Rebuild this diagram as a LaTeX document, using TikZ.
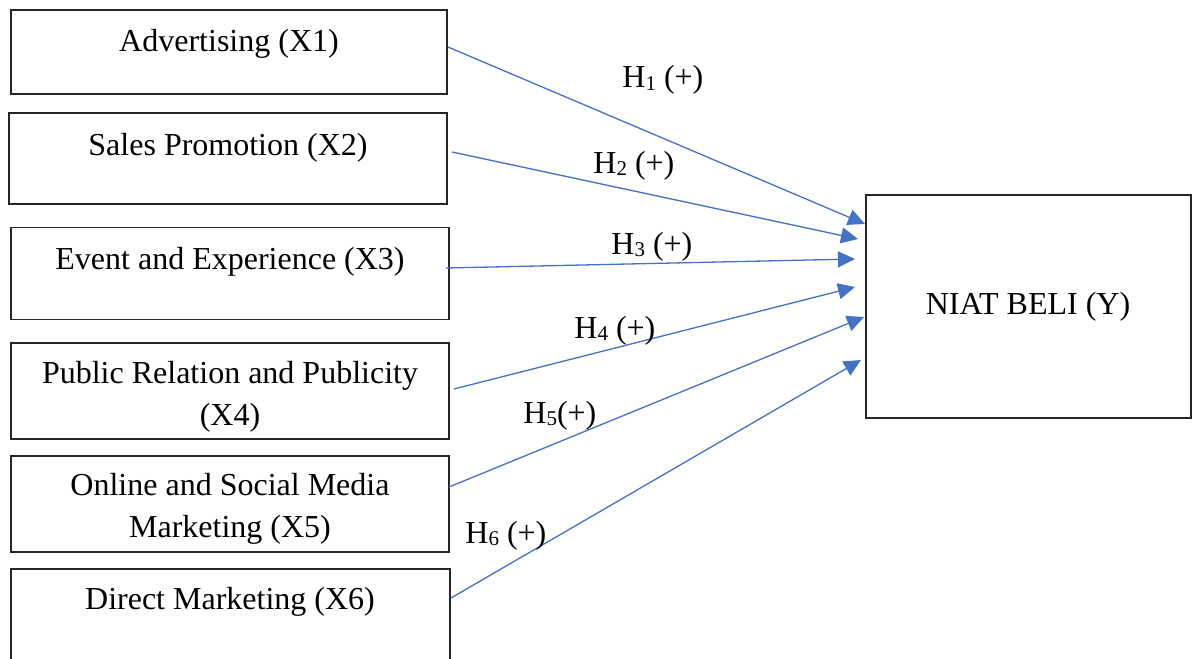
\documentclass[tikz,border=0pt]{standalone}
\usepackage{fontspec}
\setmainfont{Liberation Serif}
\usetikzlibrary{arrows.meta}
\definecolor{arrowblue}{HTML}{4472C4}
\newcommand{\hsub}[1]{\raisebox{-1.2pt}{\fontsize{10.5}{12}\selectfont #1}}
\begin{document}
\begin{tikzpicture}[x=0.5pt,y=-0.5pt,
  box/.style={draw=black!85, line width=0.65pt, inner sep=0pt},
  lbl/.style={anchor=base, inner sep=0pt, font=\fontsize{16}{21}\selectfont, align=center},
  hyp/.style={anchor=base west, inner sep=0pt, font=\fontsize{16}{21}\selectfont},
  link/.style={draw=arrowblue, line width=0.65pt, -{Triangle[length=8.5pt,width=8pt]}}]
\useasboundingbox (0,0) rectangle (1197,658);
\clip (0,0) rectangle (1197,658);
% boxes
\node[box, minimum width=218pt, minimum height=42pt] (b1) at (229,52) {};
\node[box, minimum width=219pt, minimum height=45.5pt] (b2) at (228,158.5) {};
\node[box, minimum width=219pt, minimum height=46pt] (b3) at (230,273.5) {};
\node[box, minimum width=219pt, minimum height=48pt] (b4) at (230,391) {};
\node[box, minimum width=219pt, minimum height=48pt] (b5) at (230,504) {};
\node[box, minimum width=219.5pt, minimum height=65pt] (b6) at (230.5,634) {};
\node[box, minimum width=162.5pt, minimum height=111.5pt] (y) at (1028.5,306.5) {};
% box texts
\node[lbl] (t1) at (229,52) {Advertising (X1)};
\node[lbl] (t2) at (228,155) {Sales Promotion (X2)};
\node[lbl] (t3) at (230,269) {Event and Experience (X3)};
\node[lbl] (t4) at (230,425) {Public Relation and Publicity\\(X4)};
\node[lbl] (t5) at (230,537) {Online and Social Media\\Marketing (X5)};
\node[lbl] (t6) at (230,609) {Direct Marketing (X6)};
\node[lbl] (ty) at (1028,314) {NIAT BELI (Y)};
% arrow end points
\coordinate (s1) at (448,47);  \coordinate (e1) at (865,224);
\coordinate (s2) at (452,152); \coordinate (e2) at (858,239);
\coordinate (s3) at (446,268); \coordinate (e3) at (855,259);
\coordinate (s4) at (454,389); \coordinate (e4) at (855,287);
\coordinate (s5) at (449,487); \coordinate (e5) at (864,317);
\coordinate (s6) at (451,598); \coordinate (e6) at (861,360);
\draw[link] (s1) -- (e1);
\draw[link] (s2) -- (e2);
\draw[link] (s3) -- (e3);
\draw[link] (s4) -- (e4);
\draw[link] (s5) -- (e5);
\draw[link] (s6) -- (e6);
% hypothesis labels
\node[hyp] (h1) at (622,88) {H\hsub{1} (+)};
\node[hyp] (h2) at (593,173) {H\hsub{2} (+)};
\node[hyp] (h3) at (611,254) {H\hsub{3} (+)};
\node[hyp] (h4) at (574,338) {H\hsub{4} (+)};
\node[hyp] (h5) at (523,423) {H\hsub{5}(+)};
\node[hyp] (h6) at (465,543) {H\hsub{6} (+)};
\end{tikzpicture}
\end{document}
